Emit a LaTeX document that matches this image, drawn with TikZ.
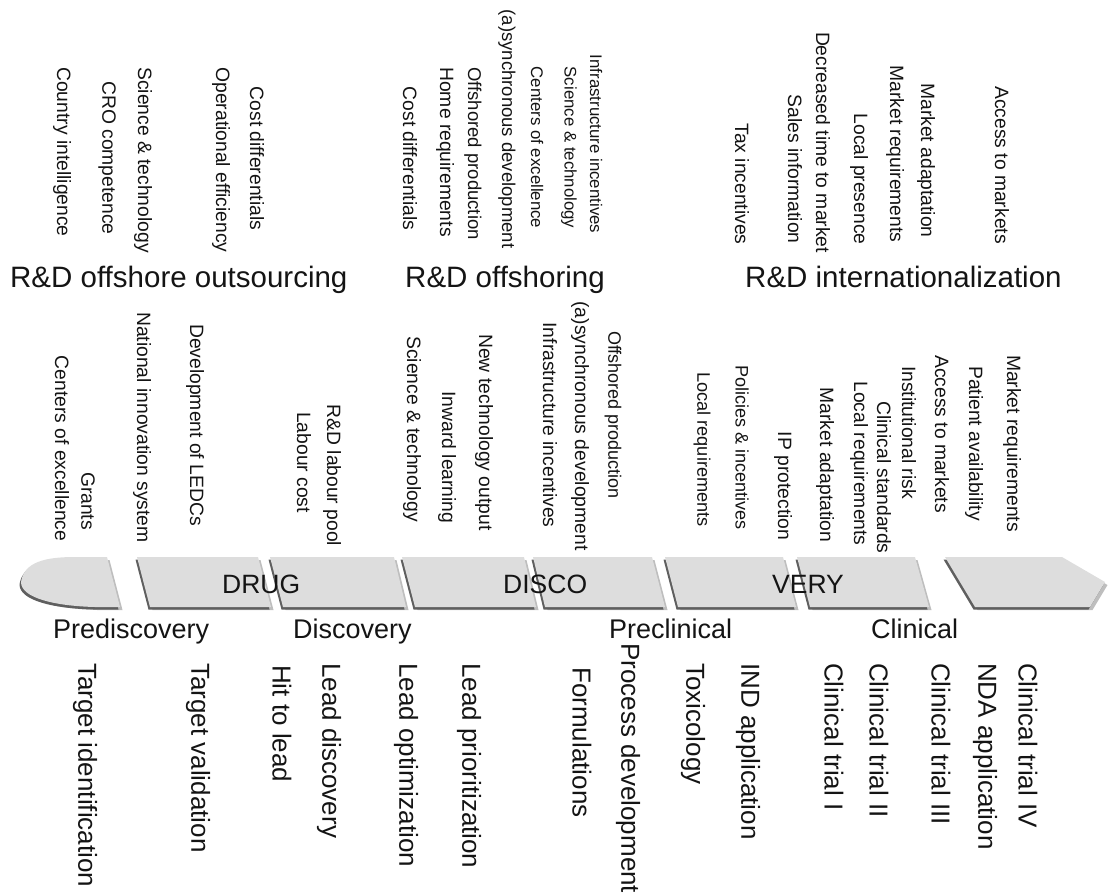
\documentclass[tikz,border=0pt]{standalone}
\usepackage{fontspec}
\setmainfont{Liberation Sans}
\definecolor{segfill}{RGB}{221,221,221}
\definecolor{segdark}{RGB}{95,95,95}
\definecolor{segsoft}{RGB}{190,190,190}
\definecolor{txt}{RGB}{20,20,20}
\tikzset{
  v/.style={rotate=-90, inner sep=0pt, text=txt, font=\fontsize{19.3}{20}\selectfont},
  vb/.style={rotate=-90, inner sep=0pt, anchor=west, text=txt, font=\fontsize{26}{28}\selectfont},
  head/.style={inner sep=0pt, anchor=base west, text=txt, font=\fontsize{29.5}{32}\selectfont},
  phase/.style={inner sep=0pt, anchor=base west, text=txt, font=\fontsize{27}{30}\selectfont},
  seglabel/.style={inner sep=0pt, anchor=base west, text=txt, font=\fontsize{26.5}{28}\selectfont},
  seg/.style={fill=segfill,
    preaction={fill=segsoft, transform canvas={shift={(2.5pt,-3pt)}}},
    preaction={fill=segdark, transform canvas={shift={(-1.5pt,-2.5pt)}}}},
}
\begin{document}
\begin{tikzpicture}[x=1pt,y=-1pt]
\useasboundingbox (0,0) rectangle (1109,895);

% ---------- arrow band ----------
\path[seg] (21,582) .. controls (24,562) and (45,557) .. (75,557) -- (107,557) -- (120,607) -- (95,607) .. controls (55,606) and (21,598) .. (21,582) -- cycle;
\path[seg] (137,557) -- (258,557) -- (271,607) -- (150,607) -- cycle;
\path[seg] (270,557) -- (394,557) -- (406,607) -- (283,607) -- cycle;
\path[seg] (402,557) -- (524,557) -- (536,607) -- (415,607) -- cycle;
\path[seg] (533,557) -- (652,557) -- (665,607) -- (545,607) -- cycle;
\path[seg] (665,557) -- (783,557) -- (796,607) -- (678,607) -- cycle;
\path[seg] (797,557) -- (915,557) -- (929,607) -- (810,607) -- cycle;
\path[seg] (945,557) -- (1062,557) -- (1105,582) -- (1090,607) -- (975,607) -- cycle;

\node[seglabel] (drug) at (222,593) {DRUG};
\node[seglabel] (disco) at (503,593) {DISCO};
\node[seglabel] (very) at (772,593) {VERY};

% ---------- phases ----------
\node[phase] (p1) at (53,638) {Prediscovery};
\node[phase] (p2) at (293,638) {Discovery};
\node[phase] (p3) at (609,638) {Preclinical};
\node[phase] (p4) at (871,638) {Clinical};

% ---------- headings ----------
\node[head] (h1) at (10,287) {R\&D offshore outsourcing};
\node[head] (h2) at (405,287) {R\&D offshoring};
\node[head] (h3) at (745,287) {R\&D internationalization};

% ---------- top group 1 ----------
\node[v] (a1) at (62,152) {Country intelligence};
\node[v] (a2) at (107,158) {CRO competence};
\node[v] (a3) at (143,160) {Science \& technology};
\node[v] (a4) at (221,160) {Operational efficiency};
\node[v] (a5) at (257,158.5) {Cost differentials};

% ---------- top group 2 ----------
\node[v] (b1) at (410,158.5) {Cost differentials};
\node[v] (b2) at (445,152) {Home requirements};
\node[v, font=\fontsize{18.5}{20}\selectfont] (b3) at (473,153.5) {Offshored production};
\node[v, font=\fontsize{18.5}{20}\selectfont] (b4) at (507,129) {(a)synchronous development};
\node[v, font=\fontsize{16.8}{18}\selectfont] (b5) at (537,147.5) {Centers of excellence};
\node[v, font=\fontsize{16.8}{18}\selectfont] (b6) at (569,147.5) {Science \& technology};
\node[v, font=\fontsize{16.8}{18}\selectfont] (b7) at (596,144) {Infrastructure incentives};

% ---------- top group 3 ----------
\node[v] (c1) at (742,184) {Tax incentives};
\node[v] (c2) at (795,169) {Sales information};
\node[v] (c3) at (823,142.5) {Decreased time to market};
\node[v] (c4) at (859,179) {Local presence};
\node[v] (c5) at (895,154) {Market requirements};
\node[v] (c6) at (926,160.5) {Market adaptation};
\node[v] (c7) at (1002,165) {Access to markets};

% ---------- middle group ----------
\node[v] (m1) at (62,448.5) {Centers of excellence};
\node[v] (m2) at (88,501) {Grants};
\node[v] (m3) at (142,427.5) {National innovation system};
\node[v] (m4) at (195,425) {Development of LEDCs};
\node[v] (m5) at (304,462.5) {Labour cost};
\node[v] (m6) at (332,475.5) {R\&D labour pool};
\node[v] (m7) at (412,429) {Science \& technology};
\node[v] (m8) at (447,457.5) {Inward learning};
\node[v] (m9) at (484,432.5) {New technology output};
\node[v] (m10) at (550,425) {Infrastructure incentives};
\node[v] (m11) at (580,426) {(a)synchronous development};
\node[v, font=\fontsize{18}{20}\selectfont] (m12) at (613,415) {Offshored production};
\node[v, font=\fontsize{18.2}{20}\selectfont] (m13) at (702,449.5) {Local requirements};
\node[v, font=\fontsize{18.1}{20}\selectfont] (m14) at (742,447.5) {Policies \& incentives};
\node[v] (m15) at (783,486) {IP protection};
\node[v] (m16) at (825,465) {Market adaptation};
\node[v] (m17) at (859,463.5) {Local requirements};
\node[v] (m18) at (884,477.5) {Clinical standards};
\node[v] (m19) at (909,432.5) {Institutional risk};
\node[v] (m20) at (942,434) {Access to markets};
\node[v] (m21) at (974,443.5) {Patient availability};
\node[v] (m22) at (1012,443.5) {Market requirements};

% ---------- bottom group ----------
\node[vb] (s1) at (85,663) {Target identification};
\node[vb] (s2) at (198,663) {Target validation};
\node[vb] (s3) at (282,665) {Hit to lead};
\node[vb] (s4) at (329,663) {Lead discovery};
\node[vb] (s5) at (406,663) {Lead optimization};
\node[vb] (s6) at (469,663) {Lead prioritization};
\node[vb] (s7) at (582,667) {Formulations};
\node[vb] (s8) at (628,643) {Process development};
\node[vb] (s9) at (693,663) {Toxicology};
\node[vb] (s10) at (748,663) {IND application};
\node[vb] (s11) at (834,663) {Clinical trial I};
\node[vb] (s12) at (879,663) {Clinical trial II};
\node[vb] (s13) at (941,663) {Clinical trial III};
\node[vb] (s14) at (985,663) {NDA application};
\node[vb] (s15) at (1028,663) {Clinical trial IV};
\end{tikzpicture}
\end{document}
